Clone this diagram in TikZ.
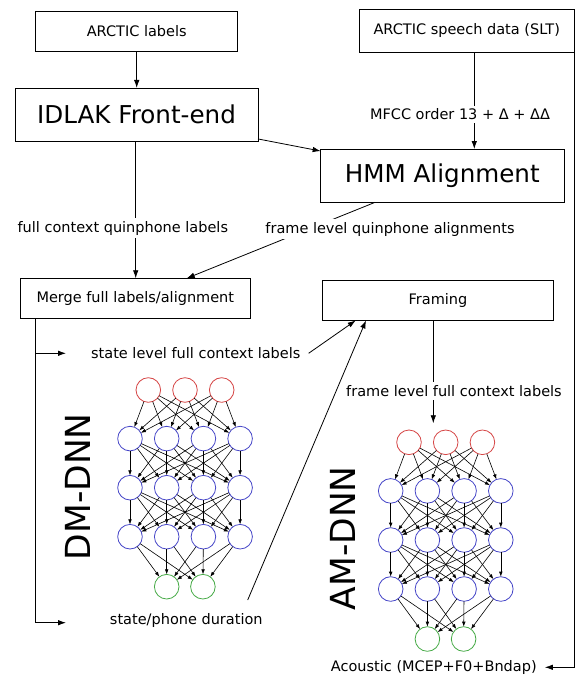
\documentclass[tikz,border=0pt]{standalone}
\usepackage{fontspec}
\setmainfont{DejaVu Sans}
\usetikzlibrary{arrows.meta,calc}
\definecolor{nred}{RGB}{214,70,70}
\definecolor{nblue}{RGB}{70,70,200}
\definecolor{ngreen}{RGB}{70,170,70}
\tikzset{
 box/.style={draw, line width=0.8pt, inner sep=0pt, outer sep=0pt, font=\fontsize{14.5}{17}\selectfont},
 bigbox/.style={box, font=\fontsize{24.6}{29}\selectfont},
 lbl/.style={fill=white, inner sep=3pt, font=\fontsize{14.5}{17}\selectfont},
 arr/.style={line width=0.8pt, -{Latex[length=8pt,width=5.5pt]}},
 neuron/.style={circle, draw, line width=0.8pt, minimum size=24.6pt, inner sep=0pt, outer sep=0pt},
 inn/.style={neuron, draw=nred},
 hid/.style={neuron, draw=nblue},
 outn/.style={neuron, draw=ngreen},
 narr/.style={line width=0.6pt, -{Latex[length=5pt,width=3.6pt]}},
 netname/.style={rotate=90, inner sep=0pt, font=\fontsize{34.5}{40}\selectfont}
}
\newcommand{\mynet}[3]{%
 \begin{scope}[shift={(#2,#3)}]
  \foreach \k in {0,1,2} \node[inn] (#1i\k) at (148.3+36.7*\k,390) {};
  \foreach \k in {0,1,2,3} \node[hid] (#1a\k) at (130+36.7*\k,438.6) {};
  \foreach \k in {0,1,2,3} \node[hid] (#1b\k) at (130+36.7*\k,487.7) {};
  \foreach \k in {0,1,2,3} \node[hid] (#1c\k) at (130+36.7*\k,536.7) {};
  \foreach \k in {0,1} \node[outn] (#1o\k) at (166.7+36.2*\k,586.7) {};
  \foreach \s in {0,1,2}{\foreach \t in {0,1,2,3}{\draw[narr] (#1i\s) -- (#1a\t);}}
  \foreach \s in {0,1,2,3}{\foreach \t in {0,1,2,3}{\draw[narr] (#1a\s) -- (#1b\t);}}
  \foreach \s in {0,1,2,3}{\foreach \t in {0,1,2,3}{\draw[narr] (#1b\s) -- (#1c\t);}}
  \foreach \s in {0,1,2,3}{\foreach \t in {0,1}{\draw[narr] (#1c\s) -- (#1o\t);}}
 \end{scope}}
\begin{document}
\begin{tikzpicture}[x=1pt,y=-1pt]
\useasboundingbox[fill=white] (0,0) rectangle (576,677);
% boxes
\node[box, minimum width=202pt, minimum height=40.7pt] (labels) at (136.7,31.3) {ARCTIC labels};
\node[box, minimum width=214.7pt, minimum height=43.4pt] (speech) at (466.7,31) {ARCTIC speech data (SLT)};
\node[bigbox, minimum width=243pt, minimum height=53.7pt] (idlak) at (136.5,114.8) {IDLAK Front-end};
\node[bigbox, minimum width=243.3pt, minimum height=53.3pt] (hmm) at (442.3,175.7) {HMM Alignment};
\node[box, minimum width=230.7pt, minimum height=40pt] (merge) at (135.3,298.3) {Merge full labels/alignment};
\node[box, minimum width=231.4pt, minimum height=40.5pt] (framing) at (438,300.2) {Framing};
% helper coordinates
\coordinate (sx) at (474.3,0);
\coordinate (ix) at (135.7,0);
\coordinate (lx) at (35,0);
\coordinate (b1) at (66,353.3);
\coordinate (b2) at (66,622.7);
\coordinate (dstart) at (247.7,600);
\coordinate (fx) at (433.3,0);
\coordinate (amtop) at (433.3,423.3);
% connectors
\draw[arr] (labels.south) -- (labels.south |- idlak.north);
\draw[arr] ([yshift=2.7pt]idlak.south east) -- ([yshift=-2pt]hmm.north west);
\draw[arr] (speech.south -| sx) -- (hmm.north -| sx);
\draw[arr] (idlak.south -| ix) -- (merge.north -| ix);
\draw[arr] ([xshift=-67.3pt]hmm.south) -- ([xshift=51.4pt]merge.north);
\draw[arr] (merge.south -| lx) |- (b2);
\draw[arr] (lx |- b1) -- (b1);
\draw[arr] (framing.south -| fx) -- (amtop);
% labels
\node[lbl] (mfcc) at (460,114.3) {MFCC order 13 + Δ + ΔΔ};
\node[lbl] (fcq) at (122.8,228.3) {full context quinphone labels};
\node[lbl] (flq) at (390,229) {frame level quinphone alignments};
\node[lbl] (sfc) at (195.8,353.3) {state level full context labels};
\node[lbl] (spd) at (186.3,620.7) {state/phone duration};
\node[lbl] (flf) at (454,391) {frame level full context labels};
\node[lbl] (acou) at (433.8,667.3) {Acoustic (MCEP+F0+Bndap)};
\draw[arr] ([xshift=5pt]sfc.east) -- ([xshift=33.4pt]framing.south west);
\draw[arr] (dstart) -- ([xshift=43.7pt]framing.south west);
\draw[arr] (speech.south east) |- ([xshift=5pt]acou.east);
% networks
\mynet{d}{0}{0}
\mynet{m}{260.7}{52.3}
\node[netname] (dmname) at (78.3,486.7) {DM-DNN};
\node[netname] (amname) at (343.3,538.3) {AM-DNN};
\end{tikzpicture}
\end{document}
